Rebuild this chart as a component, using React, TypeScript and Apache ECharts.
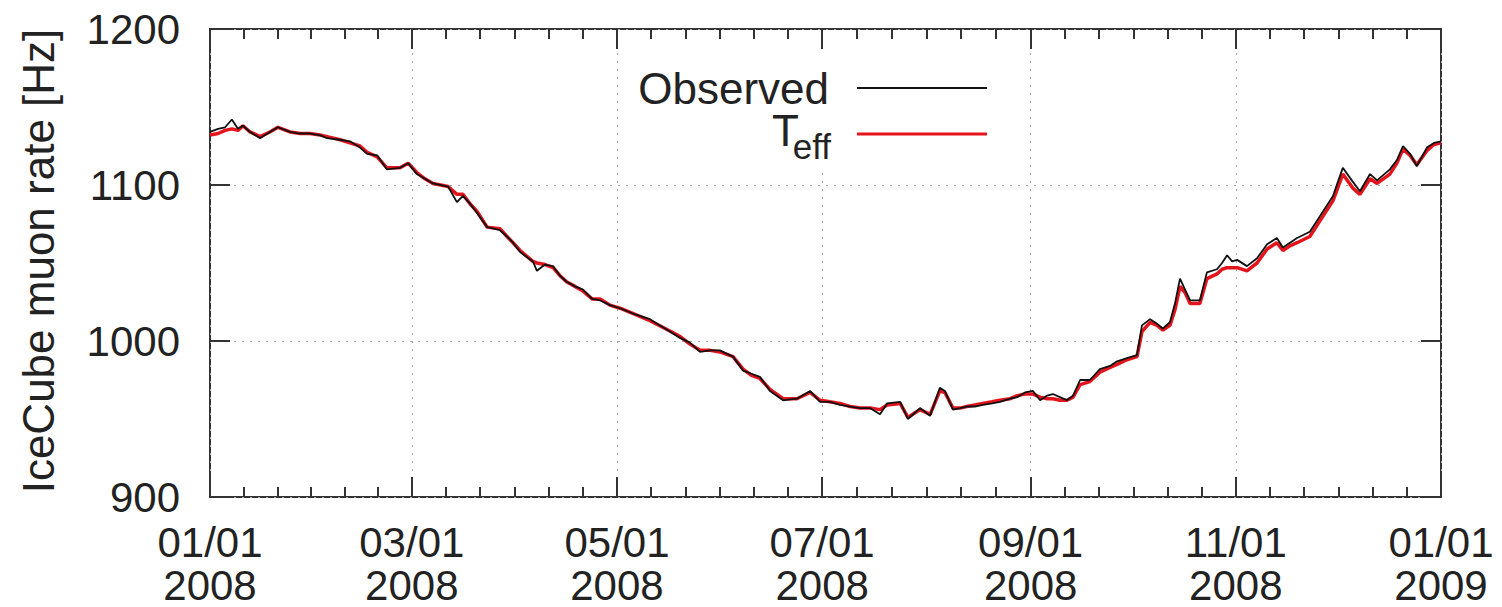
import React, { useEffect, useRef } from "react";
import * as echarts from "echarts";

// Day of year 2008 (0 = 01/01/2008, 366 = 01/01/2009)
const days = [
  0, 2.4, 4.5, 6.5, 8.3, 9.8, 11.9, 14.9, 17.8, 20.2, 23.8, 26.8, 29.7, 32.7, 34.8, 38.7, 41.6, 44.6, 46.7, 49.7,
  52.6, 56.5, 58.9, 61.5, 63.9, 66.3, 70.8, 73.4, 75.2, 77.3, 79.4, 82.4, 86.2, 88.3, 90.1, 92.2, 96.0, 97.2, 99.6, 102,
  104, 106, 108.5, 110.9, 113.6, 116, 118.9, 121.9, 126.4, 130.8, 135.3, 139.7, 142.7, 145.7, 148.7, 151.6, 155.5, 158.5, 161, 163.5,
  166.5, 170.4, 174.5, 178.4, 181.4, 184.3, 187.3, 190.3, 193.3, 196.2, 199.2, 201.3, 205.2, 207.5, 209.6, 211.1, 214.1, 217, 218.5, 220.9,
  223, 225, 227.4, 229.8, 232.5, 234.9, 237.9, 240, 242.3, 244.7, 246.8, 248.9, 250.6, 252.7, 254.8, 256.6, 258.7, 261.6, 264.6, 267.6,
  269.7, 272.6, 275.6, 277.1, 279.5, 281.6, 283.3, 285.4, 286.9, 288.4, 289.9, 291.4, 294.3, 296.4, 299.4, 300.9, 302.4, 303.9, 305.4, 308.3,
  311.3, 314.3, 317.2, 319, 321.1, 323.2, 327, 330, 333.9, 336.8, 339.8, 341.9, 344.9, 347, 350.8, 352.9, 354.7, 356.8, 358.8, 361.8,
  363.9, 366,
];

const observed = [
  1134, 1136, 1137, 1142, 1136, 1138, 1134, 1130, 1134, 1137, 1134, 1133, 1133, 1132, 1130, 1129, 1128, 1124, 1120, 1119,
  1110, 1111, 1114, 1107, 1104, 1101, 1099, 1089, 1093, 1088, 1082, 1073, 1071, 1067, 1063, 1057, 1051, 1045, 1049, 1048,
  1042, 1038, 1035, 1033, 1027, 1026, 1023, 1021, 1017, 1014, 1008, 1002, 999, 993, 994, 994, 990, 981, 979, 977,
  968, 962, 963, 968, 961, 961, 959, 958, 957, 957, 953, 960, 961, 950, 954, 957, 952, 970, 968, 956,
  957, 958, 958, 959, 960, 961, 963, 964, 967, 968, 962, 965, 966, 964, 962, 965, 975, 975, 982, 984,
  987, 989, 991, 1010, 1014, 1011, 1008, 1012, 1024, 1040, 1033, 1026, 1026, 1044, 1046, 1050, 1055, 1051, 1052, 1048,
  1053, 1062, 1066, 1060, 1063, 1066, 1070, 1080, 1093, 1111, 1102, 1096, 1107, 1103, 1110, 1116, 1125, 1120, 1112, 1124,
  1127, 1128,
];

const teff = [
  1132, 1133, 1135, 1136, 1135, 1138, 1134, 1131, 1134, 1137, 1134, 1133, 1133, 1132, 1131, 1129, 1127, 1125, 1121, 1118,
  1111, 1111, 1114, 1108, 1104, 1101, 1099, 1094, 1094, 1088, 1083, 1073, 1072, 1067, 1063, 1058, 1051, 1050, 1049, 1047,
  1042, 1038, 1035, 1032, 1027, 1027, 1023, 1021, 1017, 1013, 1008, 1003, 998, 994, 994, 993, 990, 982, 978, 976,
  969, 963, 963, 967, 962, 961, 960, 958, 957, 957, 956, 959, 960, 951, 954, 956, 953, 968, 967, 957,
  957, 958, 959, 960, 961, 962, 963, 965, 966, 966, 964, 963, 963, 962, 962, 964, 972, 974, 980, 983,
  985, 988, 990, 1006, 1012, 1010, 1007, 1010, 1020, 1035, 1031, 1024, 1024, 1040, 1043, 1046, 1047, 1047, 1047, 1045,
  1050, 1059, 1063, 1058, 1061, 1063, 1067, 1077, 1090, 1107, 1098, 1094, 1104, 1101, 1107, 1114, 1123, 1119, 1113, 1122,
  1126, 1127,
];

// Major x tick dates (labels are formatted MM/DD + year) and y ticks
const xTickDates = ["2008-01-01", "2008-03-01", "2008-05-01", "2008-07-01", "2008-09-01", "2008-11-01", "2009-01-01"];
const yTicks = [900, 1000, 1100, 1200];

const FONT = "'Liberation Sans', Arial, Helvetica, sans-serif";
const INK = "#222222";
const FRAME = "#333333";
const RED = "#e3141c";
const DAY_MS = 86400000;

// Layout of the plot area
const W_PAGE = 1502;
const H_PAGE = 607;
const G_LEFT = 210;
const G_RIGHT = 61;
const G_TOP = 29;
const G_BOTTOM = 108;
const MAJOR_LEN = 20;
const MINOR_LEN = 10;

function pad2(n: number) {
  return n < 10 ? "0" + n : "" + n;
}

export default function App() {
  const ref = useRef<HTMLDivElement>(null);

  useEffect(() => {
    if (!ref.current) return;
    const chart = echarts.init(ref.current, undefined, { renderer: "svg" });

    const parse = (s: string) => Date.parse(s + "T00:00:00Z");
    const majors = xTickDates.map(parse);
    const t0 = majors[0];
    const t1 = majors[majors.length - 1];
    const toTime = (d: number) => t0 + d * DAY_MS;
    const yMin = yTicks[0];
    const yMax = yTicks[yTicks.length - 1];

    const minors: number[] = [];
    for (let i = 0; i < majors.length - 1; i++) {
      for (let k = 1; k < 6; k++) minors.push(majors[i] + ((majors[i + 1] - majors[i]) * k) / 6);
    }

    // Tick lengths expressed in data units of each axis
    const plotW = W_PAGE - G_LEFT - G_RIGHT;
    const plotH = H_PAGE - G_TOP - G_BOTTOM;
    const yPerPx = (yMax - yMin) / plotH;
    const tPerPx = (t1 - t0) / plotW;

    const tickSeg = (a: number[], b: number[]) => [{ coord: a }, { coord: b }];
    const tickLines: any[] = [];
    const addXTick = (t: number, len: number) => {
      tickLines.push(tickSeg([t, yMin], [t, yMin + len * yPerPx]));
      tickLines.push(tickSeg([t, yMax], [t, yMax - len * yPerPx]));
    };
    majors.forEach((t) => addXTick(t, MAJOR_LEN));
    minors.forEach((t) => addXTick(t, MINOR_LEN));
    yTicks.forEach((v) => {
      tickLines.push(tickSeg([t0, v], [t0 + MAJOR_LEN * tPerPx, v]));
      tickLines.push(tickSeg([t1, v], [t1 - MAJOR_LEN * tPerPx, v]));
    });

    const dotted = { show: true, lineStyle: { color: "#aaaaaa", width: 1, type: [2, 6] } };

    const legendEls: any[] = [
      {
        type: "rect",
        z: 1,
        silent: true,
        shape: { x: 628, y: 50, width: 375, height: 122 },
        style: { fill: "#ffffff" },
      },
      {
        type: "text",
        z: 10,
        x: 829,
        y: 88,
        style: { text: "Observed", fill: INK, font: `44px ${FONT}`, textAlign: "right", textVerticalAlign: "middle" },
      },
      {
        type: "line",
        z: 10,
        shape: { x1: 857, y1: 88, x2: 987, y2: 88 },
        style: { stroke: "#111111", lineWidth: 2 },
      },
      {
        type: "text",
        z: 10,
        x: 799,
        y: 130,
        style: { text: "T", fill: INK, font: `44px ${FONT}`, textAlign: "right", textVerticalAlign: "middle" },
      },
      {
        type: "text",
        z: 10,
        x: 831,
        y: 146,
        style: { text: "eff", fill: INK, font: `35px ${FONT}`, textAlign: "right", textVerticalAlign: "middle" },
      },
      {
        type: "line",
        z: 10,
        shape: { x1: 857, y1: 134, x2: 987, y2: 134 },
        style: { stroke: RED, lineWidth: 3 },
      },
      {
        type: "text",
        z: 10,
        x: 38,
        y: 261,
        rotation: Math.PI / 2,
        style: {
          text: "IceCube muon rate [Hz]",
          fill: INK,
          font: `44px ${FONT}`,
          textAlign: "center",
          textVerticalAlign: "middle",
        },
      },
    ];

    const option: any = {
      animation: false,
      useUTC: true,
      grid: {
        left: G_LEFT,
        right: G_RIGHT,
        top: G_TOP,
        bottom: G_BOTTOM,
        show: true,
        borderColor: FRAME,
        borderWidth: 2,
        backgroundColor: "transparent",
      },
      xAxis: {
        type: "time",
        min: t0,
        max: t1,
        splitNumber: 6,
        axisLine: { show: false },
        axisTick: { show: false },
        axisLabel: {
          show: true,
          formatter: (v: number) => {
            const dt = new Date(v);
            return pad2(dt.getUTCMonth() + 1) + "/" + pad2(dt.getUTCDate()) + "\n" + dt.getUTCFullYear();
          },
          fontSize: 42,
          lineHeight: 43,
          margin: 24,
          color: INK,
          fontFamily: FONT,
          showMinLabel: true,
          showMaxLabel: true,
          hideOverlap: false,
        },
        splitLine: dotted,
      },
      yAxis: {
        type: "value",
        min: yMin,
        max: yMax,
        interval: 100,
        axisLine: { show: false },
        axisTick: { show: false },
        axisLabel: {
          show: true,
          fontSize: 42,
          margin: 30,
          color: INK,
          fontFamily: FONT,
          formatter: (v: number) => String(v),
        },
        splitLine: dotted,
      },
      series: [
        {
          name: "T_eff",
          type: "line",
          showSymbol: false,
          data: days.map((d, i) => [toTime(d), teff[i]]),
          lineStyle: { color: RED, width: 3.5 },
          itemStyle: { color: RED },
        },
        {
          name: "Observed",
          type: "line",
          showSymbol: false,
          data: days.map((d, i) => [toTime(d), observed[i]]),
          lineStyle: { color: "#111111", width: 1.8 },
          itemStyle: { color: "#111111" },
          markLine: {
            silent: true,
            animation: false,
            symbol: ["none", "none"],
            label: { show: false },
            emphasis: { disabled: true },
            lineStyle: { color: FRAME, width: 2, type: "solid", opacity: 1 },
            data: tickLines,
          },
        },
      ],
      graphic: { elements: legendEls },
    };

    chart.setOption(option);

    return () => chart.dispose();
  }, []);

  return (
    <div
      ref={ref}
      style={{ position: "fixed", left: 0, top: 0, width: W_PAGE, height: H_PAGE, background: "#ffffff" }}
    />
  );
}
